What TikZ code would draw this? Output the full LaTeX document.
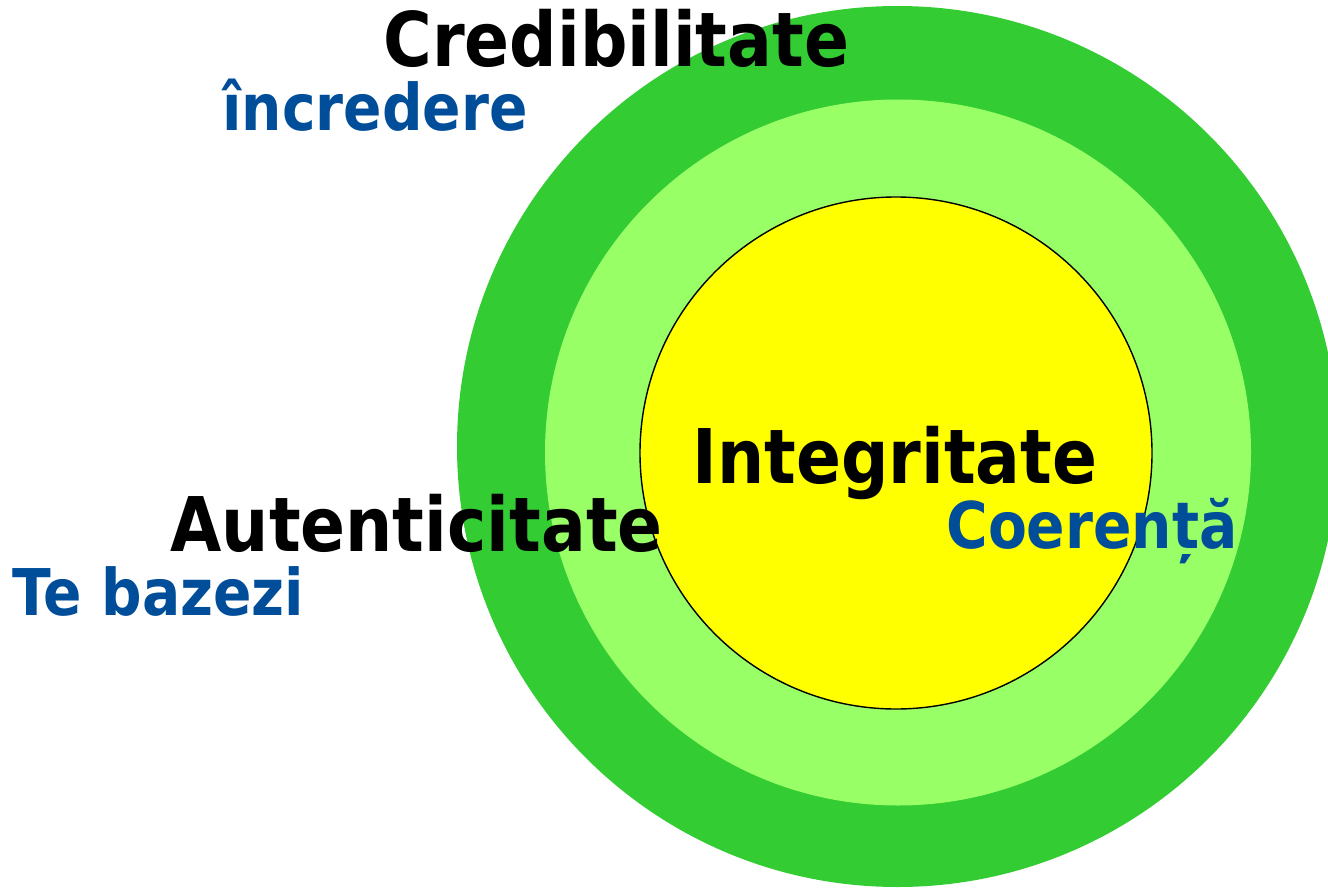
\documentclass[tikz,border=0pt]{standalone}
\usepackage{fontspec}
\setmainfont{DejaVu Sans}
\newfontfamily\narrowfont[FakeStretch=0.88]{DejaVu Sans}
\definecolor{darkgr}{RGB}{51,204,51}
\definecolor{lightgr}{RGB}{153,255,102}
\definecolor{yel}{RGB}{255,255,0}
\definecolor{blu}{RGB}{0,77,153}
\tikzset{
  ring/.style={circle, inner sep=0pt, outer sep=0pt},
  bigword/.style={anchor=base west, inner sep=0pt, text=black, font=\narrowfont\fontsize{37.7pt}{40pt}\selectfont\bfseries},
  smallword/.style={anchor=base west, inner sep=0pt, text=blu, font=\narrowfont\fontsize{32.2pt}{34pt}\selectfont\bfseries},
}
\begin{document}
\begin{tikzpicture}[x=0.5pt,y=-0.5pt]
\useasboundingbox (0,0) rectangle (1328,888);
\fill[white] (0,0) rectangle (1328,888);
\clip (0,0) rectangle (1328,888);
\node[ring, fill=darkgr, minimum size=440.5pt] (outer) at (897.5,446.5) {};
\node[ring, fill=lightgr, minimum size=353pt] (middle) at (898,452.5) {};
\node[ring, fill=yel, draw=black, line width=0.7pt, minimum size=256pt] (inner) at (896,453) {};
\node[bigword] (cred) at (383,67) {Credibilitate};
\node[smallword] (incr) at (222,131) {încredere};
\node[bigword] (integ) at (692,483) {Integritate};
\node[bigword] (aut) at (170,551) {Autenticitate};
\node[smallword] (te) at (12,615) {Te bazezi};
\node[smallword] (coer) at (946,548) {Coerență};
\end{tikzpicture}
\end{document}
